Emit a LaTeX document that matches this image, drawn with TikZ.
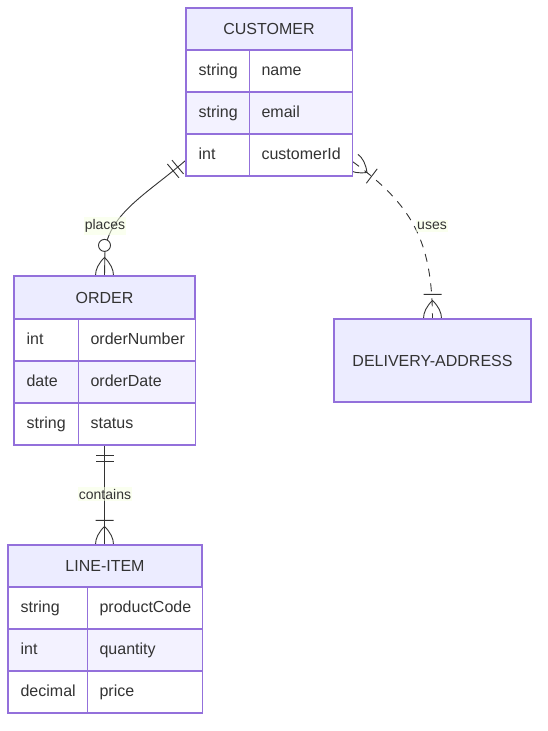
\documentclass[tikz,border=0pt]{standalone}
\usepackage{fontspec}
\setmainfont{Liberation Sans}
\usetikzlibrary{calc,backgrounds}
\hyphenpenalty=10000
\definecolor{erline}{RGB}{147,112,219}
\definecolor{erhead}{RGB}{236,236,255}
\definecolor{ereven}{RGB}{243,242,255}
\definecolor{ertext}{RGB}{51,51,51}
\definecolor{erlabel}{RGB}{246,255,226}
\tikzset{
    entity/.style={draw=erline, line width=1.2pt, fill=white, inner sep=0pt},
    head/.style={draw=erline, line width=1.2pt, fill=erhead, inner sep=0pt, text=ertext, font=\fontsize{16}{19}\selectfont},
    cell/.style={draw=erline, line width=1.2pt, fill=white, inner xsep=12pt, inner ysep=0pt, minimum height=42pt, align=left, anchor=west, text=ertext, text height=12pt, text depth=3pt, font=\fontsize{16}{19}\selectfont},
    rel/.style={draw=ertext, line width=0.9pt},
    rellabel/.style={fill=erlabel, fill opacity=0.55, text opacity=1, text=ertext, inner xsep=1pt, inner ysep=2pt, font=\fontsize{14}{16}\selectfont},
    onlyone/.pic={\draw[rel] (10,-9) -- (10,9) (16,-9) -- (16,9);},
    onemany/.pic={\draw[rel] (0,9) .. controls (6,9) and (12,6) .. (18,0) .. controls (12,-6) and (6,-9) .. (0,-9) (24,-9) -- (24,9);},
    zeromany/.pic={\draw[rel] (0,9) .. controls (6,9) and (12,6) .. (18,0) .. controls (12,-6) and (6,-9) .. (0,-9);
        \draw[rel, fill=white] (30,0) circle (6pt);}
}

\begin{document}
\begin{tikzpicture}[x=1pt, y=-1pt]
    \useasboundingbox (0,0) rectangle (547,731);
    % entities
    \node[entity, minimum width=166pt, minimum height=168pt] (customer) at (269,92) {};
    \node[head, minimum width=166pt, minimum height=42pt] (customerHead) at (269,29) {CUSTOMER};
    \node[cell, text width=39pt] (customerT1) at (186,71) {string};
    \node[cell, text width=79pt] (customerN1) at (249,71) {name};
    \node[cell, fill=ereven, text width=39pt] (customerT2) at (186,113) {string};
    \node[cell, fill=ereven, text width=79pt] (customerN2) at (249,113) {email};
    \node[cell, text width=39pt] (customerT3) at (186,155) {int};
    \node[cell, text width=79pt] (customerN3) at (249,155) {customerId};

    \node[entity, minimum width=181pt, minimum height=169pt] (order) at (104.5,360.5) {};
    \node[head, minimum width=181pt, minimum height=43pt] (orderHead) at (104.5,297.5) {ORDER};
    \node[cell, text width=40pt] (orderT1) at (14,340) {int};
    \node[cell, text width=93pt] (orderN1) at (78,340) {orderNumber};
    \node[cell, fill=ereven, text width=40pt] (orderT2) at (14,382) {date};
    \node[cell, fill=ereven, text width=93pt] (orderN2) at (78,382) {orderDate};
    \node[cell, text width=40pt] (orderT3) at (14,424) {string};
    \node[cell, text width=93pt] (orderN3) at (78,424) {status};

    \node[entity, minimum width=194pt, minimum height=168pt] (lineitem) at (105,629) {};
    \node[head, minimum width=194pt, minimum height=42pt] (lineitemHead) at (105,566) {LINE-ITEM};
    \node[cell, text width=55pt] (lineitemT1) at (8,608) {string};
    \node[cell, text width=91pt] (lineitemN1) at (87,608) {productCode};
    \node[cell, fill=ereven, text width=55pt] (lineitemT2) at (8,650) {int};
    \node[cell, fill=ereven, text width=91pt] (lineitemN2) at (87,650) {quantity};
    \node[cell, text width=55pt] (lineitemT3) at (8,692) {decimal};
    \node[cell, text width=91pt] (lineitemN3) at (87,692) {price};

    \node[head, minimum width=197pt, minimum height=83pt] (address) at (432.5,360.5) {DELIVERY-ADDRESS};

    % relationships
    \begin{pgfonlayer}{background}
        \coordinate (placesA) at ($(customer.south west)+(0,-16)$);
        \coordinate (usesA) at ($(customer.south east)+(0,-15)$);
        \draw[rel] (placesA) .. controls (148,193) and (110,213) .. (105,250) -- (order.north);
        \draw[rel, dash pattern=on 8pt off 7pt] (usesA) .. controls (412,205) and (432,240) .. (address.north);
        \draw[rel] (order.south) -- (order.south |- lineitem.north);
        \pic[rotate=-140] at (placesA) {onlyone};
        \pic[rotate=90] at (order.north) {zeromany};
        \pic[rotate=-90] at (order.south) {onlyone};
        \pic[rotate=90] at (order.south |- lineitem.north) {onemany};
        \pic[rotate=-37] at (usesA) {onemany};
        \pic[rotate=90] at (address.north) {onemany};
        \node[rellabel] (placesLabel) at (105,226) {places};
        \node[rellabel] (usesLabel) at (432,226) {uses};
        \node[rellabel] (containsLabel) at (105,494) {contains};
    \end{pgfonlayer}
\end{tikzpicture}
\end{document}
